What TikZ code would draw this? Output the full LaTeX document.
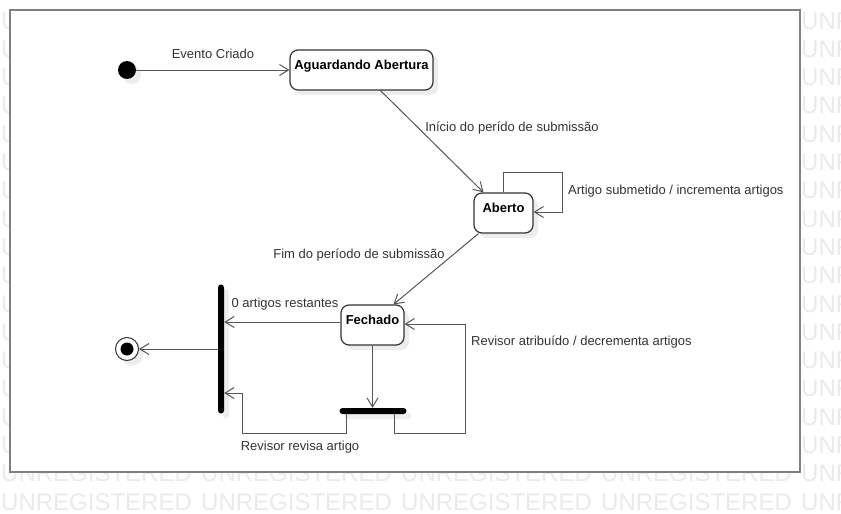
\documentclass[tikz,border=0pt]{standalone}
\usepackage{fontspec}
\setmainfont{Liberation Sans}
\usepackage{tikz}
\usetikzlibrary{arrows.meta,shadows}

\definecolor{linegray}{RGB}{85,85,85}
\definecolor{framegray}{RGB}{128,128,128}
\definecolor{wmgray}{RGB}{234,234,234}

\tikzset{
	softshadow/.style={drop shadow={shadow xshift=5pt,shadow yshift=-5pt,fill=black!7,opacity=1}},
	state/.style={draw=black!80,line width=1.2pt,rounded corners=8pt,fill=white,softshadow,
		inner xsep=4pt,inner ysep=0pt,text height=19pt,text depth=21pt,
		font=\fontsize{13}{15}\selectfont\bfseries},
	trans/.style={draw=linegray,line width=1pt,-{Straight Barb[length=9pt,width=11pt]}},
	lbl/.style={font=\fontsize{13}{15}\selectfont,text=black!80,inner sep=0pt},
	syncbar/.style={fill=black,rounded corners=3pt,inner sep=0pt,softshadow},
	wm/.style={font=\fontsize{24}{24}\selectfont,text=wmgray,inner sep=0pt,anchor=base west},
}

\begin{document}
\begin{tikzpicture}[x=1pt,y=-1pt]
	\useasboundingbox (0,0) rectangle (841,514);
	\begin{scope}
	\clip (0,0) rectangle (841,514);
	\foreach \r in {0,...,15}{
		\node[wm] (wml-\r) at (1,29+28.3*\r) {U};
		\node[wm] (wmr-\r) at (801,29+28.3*\r) {UNREGISTERED};
	}
	\foreach \r in {16,17}
		\foreach \c in {0,...,4}
			\node[wm] (wm-\r-\c) at (1+200*\c,29+28.3*\r) {UNREGISTERED};
	\end{scope}
	\draw[framegray,line width=1.5pt,fill=white]
	(10,10) rectangle (800,472);

	\node[circle,fill=black,minimum size=18pt,inner sep=0pt,softshadow] (start) at (127,70) {};
	\node[state,minimum width=143pt] (wait) at (361.5,70) {Aguardando Abertura};
	\node[state,minimum width=59pt] (open) at (503.5,213) {Aberto};
	\node[state,minimum width=63pt] (closed) at (372.5,325) {Fechado};
	\node[syncbar,minimum width=6pt,minimum height=129pt] (join) at (221,349) {};
	\node[syncbar,minimum width=67pt,minimum height=6pt] (fork) at (373,411) {};
	\node[circle,draw=black!80,line width=1pt,fill=white,minimum size=23pt,softshadow] (end) at (127,349) {};
	\node[circle,fill=black,minimum size=13pt,inner sep=0pt] (endin) at (end) {};

	\coordinate (loop) at (562,172);
	\coordinate (cw) at ([yshift=3pt]closed.west);
	\coordinate (revL) at (242,433);
	\coordinate (joinin) at ([yshift=-44pt]join.east);
	\coordinate (revR) at (465,433);

	\draw[trans]
	(start) -- (wait);
	\draw[trans]
	([xshift=19pt]wait.south) -- ([xshift=-20pt]open.north);
	\draw[trans]
	(open.north) |- (loop) |- ([yshift=1pt]open.east);
	\draw[trans]
	([xshift=-25pt]open.south) -- ([xshift=21pt]closed.north);
	\draw[trans]
	(cw) -- (cw -| join.east);
	\draw[trans]
	(join.west) -- (end);
	\draw[trans]
	(closed.south) -- (closed.south |- fork.north);
	\draw[trans]
	([xshift=-27pt]fork.south) |- (revL) |- (joinin);
	\draw[trans]
	([xshift=21pt]fork.south) |- (revR) |- ([yshift=1pt]closed.east);

	\node[lbl] (evt) at (213,54) {Evento Criado};
	\node[lbl] (subini) at (512,128) {Início do perído de submissão};
	\node[lbl,anchor=west] (subart) at (568,191) {Artigo submetido / incrementa artigos};
	\node[lbl] (subfim) at (359,255) {Fim do período de submissão};
	\node[lbl] (zero) at (285,304) {0 artigos restantes};
	\node[lbl,anchor=west] (atrib) at (471,342) {Revisor atribuído / decrementa artigos};
	\node[lbl] (revisa) at (300,447) {Revisor revisa artigo};
\end{tikzpicture}
\end{document}
